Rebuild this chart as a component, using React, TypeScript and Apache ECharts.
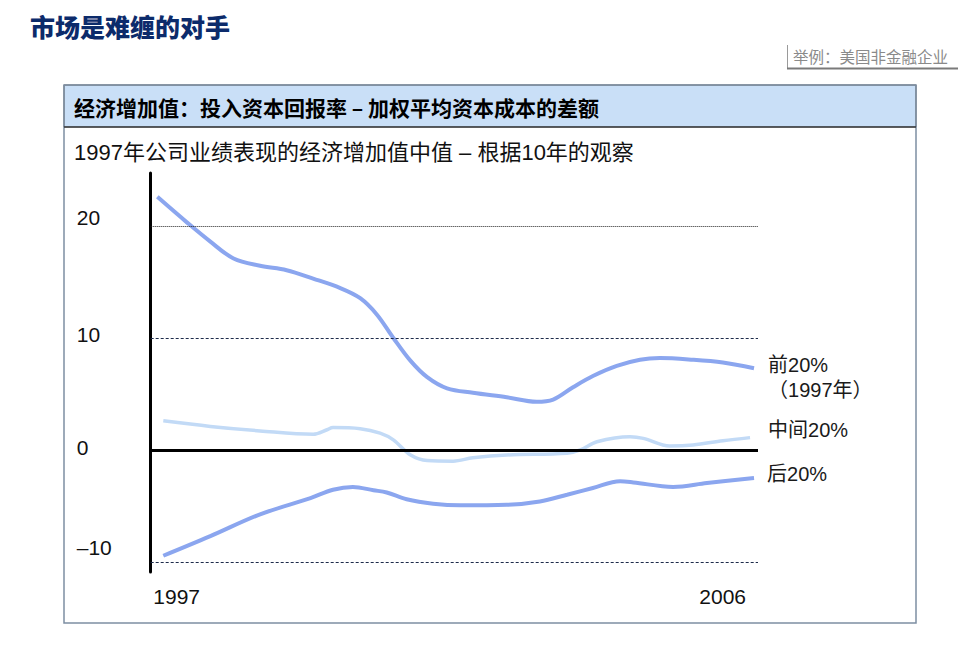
import React, { useEffect, useRef } from "react";
import * as echarts from "echarts";

// Economic value added (ROIC – WACC), median by 1997 performance quintile
const topYears = [1997.0, 1997.45, 1997.8, 1998.15, 1998.55, 1998.95, 1999.35, 1999.76, 2000.06, 2000.31, 2000.56, 2000.82, 2001.07, 2001.37, 2001.76, 2002.27, 2002.72, 2002.97, 2003.27, 2003.57, 2003.93, 2004.28, 2004.58, 2005.08, 2005.53, 2006.0];
const topValues = [22.6, 20.3, 18.6, 17.1, 16.45, 16.05, 15.3, 14.45, 13.55, 12.1, 10.0, 7.95, 6.5, 5.5, 5.1, 4.7, 4.3, 4.5, 5.6, 6.6, 7.5, 8.05, 8.2, 8.05, 7.8, 7.3];

const midYears = [1997.09, 1997.8, 1998.55, 1999.35, 1999.56, 1999.65, 2000.06, 2000.36, 2000.56, 2000.82, 2001.07, 2001.46, 2001.76, 2002.27, 2003.18, 2003.38, 2003.63, 2004.13, 2004.33, 2004.73, 2005.08, 2005.53, 2005.94];
const midValues = [2.6, 2.1, 1.7, 1.4, 1.8, 2.0, 1.9, 1.5, 0.9, -0.45, -0.95, -1.0, -0.7, -0.45, -0.3, 0.0, 0.73, 1.18, 1.03, 0.35, 0.44, 0.82, 1.1];

const lowYears = [1997.09, 1997.8, 1998.55, 1999.31, 1999.65, 1999.95, 2000.26, 2000.46, 2000.76, 2001.16, 2001.57, 2002.27, 2002.77, 2003.18, 2003.57, 2003.98, 2004.18, 2004.78, 2005.29, 2006.0];
const lowValues = [-9.45, -7.7, -5.75, -4.3, -3.55, -3.3, -3.6, -3.8, -4.4, -4.8, -4.95, -4.9, -4.6, -4.0, -3.4, -2.8, -2.9, -3.3, -2.95, -2.5];

const seriesNames = ["前20%\n（1997年）", "中间20%", "后20%"];
const yTicks = [-10, 0, 10, 20];
const dashedLevels = [10, -10];
const dottedLevels = [20];
const baseLevel = 0;
const xTickYears = [1997, 2006];

const pageTitle = "市场是难缠的对手";
const noteText = "举例：美国非金融企业";
const panelTitle = "经济增加值：投入资本回报率 – 加权平均资本成本的差额";
const panelSubtitle = "1997年公司业绩表现的经济增加值中值 – 根据10年的观察";

const pairs = (xs: number[], ys: number[]) => xs.map((x, i) => [x, ys[i]]);

const FONT = "'Liberation Sans', 'Noto Sans CJK SC', sans-serif";
const CJK = "'Noto Sans CJK SC', sans-serif";

// tick labels sit slightly above their grid lines; bottom padding lifts each one
const tickLift: Record<string, number> = { "20": 16, "10": 6, "0": 4, "-10": 28 };

export default function App() {
  const ref = useRef<HTMLDivElement>(null);

  useEffect(() => {
    if (!ref.current) return;
    const chart = echarts.init(ref.current, undefined, { renderer: "svg" });

    const lineBase = (name: string, data: number[][], color: string, width: number, labelOffset: number[], distance: number) => ({
      type: "line",
      name,
      data,
      smooth: 0.35,
      showSymbol: false,
      symbol: "none",
      z: 3,
      lineStyle: { color, width, cap: "butt" },
      endLabel: {
        show: true,
        formatter: name,
        distance,
        offset: labelOffset,
        color: "#1a1a1a",
        fontSize: 20,
        lineHeight: 25,
        fontFamily: FONT,
        align: "left",
      },
    });

    const tickRich: Record<string, any> = {};
    yTicks.forEach((v, i) => {
      tickRich["t" + i] = {
        fontSize: 21,
        color: "#111",
        fontFamily: FONT,
        padding: [0, 0, tickLift[String(v)] || 0, 0],
      };
    });

    chart.setOption({
      animation: false,
      backgroundColor: "#ffffff",
      grid: { left: 150.7, top: 173, width: 607.3, height: 399, containLabel: false },
      xAxis: {
        type: "value",
        min: 1996.9,
        max: 2006.06,
        axisLine: { show: false },
        axisTick: { show: false },
        axisLabel: { show: false },
        splitLine: { show: false },
      },
      yAxis: {
        type: "value",
        min: -10.9,
        max: 24.73,
        axisLine: { show: true, onZero: false, lineStyle: { color: "#000", width: 3 } },
        axisTick: { show: false },
        splitLine: { show: false },
        axisLabel: {
          customValues: yTicks,
          align: "left",
          margin: 74,
          fontSize: 21,
          color: "#111",
          fontFamily: FONT,
          rich: tickRich,
          formatter: (v: number) => {
            const i = yTicks.indexOf(v);
            const txt = v < 0 ? "–" + Math.abs(v) : String(v);
            return i >= 0 ? `{t${i}|${txt}}` : txt;
          },
        },
      },
      series: [
        {
          type: "line",
          data: [],
          z: 1,
          markLine: {
            silent: true,
            symbol: ["none", "none"],
            label: { show: false },
            data: [
              ...dottedLevels.map((v) => ({ yAxis: v, lineStyle: { type: [1, 1], color: "#222", width: 1 } })),
              ...dashedLevels.map((v) => ({ yAxis: v, lineStyle: { type: [3, 2], color: "#1d2b4a", width: 1 } })),
              { yAxis: baseLevel, lineStyle: { type: "solid", color: "#000", width: 3 } },
            ],
          },
        },
        lineBase(seriesNames[0], pairs(topYears, topValues), "#8ba6ef", 4, [0, 9], 14),
        lineBase(seriesNames[1], pairs(midYears, midValues), "#c2daf6", 3.5, [0, -8], 18),
        lineBase(seriesNames[2], pairs(lowYears, lowValues), "#8ba6ef", 4, [0, -4], 13),
      ],
    });

    const xs = xTickYears.map((y) => chart.convertToPixel({ xAxisIndex: 0 }, y) as number);

    chart.setOption({
      graphic: [
        {
          type: "text",
          left: 30,
          top: 13,
          style: { text: pageTitle, fill: "#0c2b6b", font: `900 25px ${CJK}` },
        },
        {
          type: "line",
          shape: { x1: 787.5, y1: 45, x2: 787.5, y2: 69 },
          style: { stroke: "#9a9a9a", lineWidth: 1 },
        },
        {
          type: "line",
          shape: { x1: 787, y1: 68.5, x2: 958, y2: 68.5 },
          style: { stroke: "#7a7a7a", lineWidth: 2 },
        },
        {
          type: "text",
          x: 793,
          y: 56,
          style: { text: noteText, fill: "#8a8a8a", font: `15.5px ${CJK}`, verticalAlign: "middle" },
        },
        {
          type: "rect",
          shape: { x: 64, y: 85, width: 852, height: 42 },
          style: { fill: "#c9dff7", stroke: "#555", lineWidth: 1 },
          z: -1,
        },
        {
          type: "rect",
          shape: { x: 64, y: 85, width: 852, height: 538 },
          style: { fill: "none", stroke: "#7d8ea3", lineWidth: 1.5 },
        },
        {
          type: "line",
          shape: { x1: 64, y1: 127, x2: 916, y2: 127 },
          style: { stroke: "#111", lineWidth: 1 },
        },
        {
          type: "text",
          x: 74,
          y: 107,
          style: { text: panelTitle, fill: "#000", font: `bold 21px ${CJK}`, verticalAlign: "middle" },
        },
        {
          type: "text",
          x: 74,
          y: 152,
          style: { text: panelSubtitle, fill: "#111", font: `22px ${FONT}`, verticalAlign: "middle" },
        },
        {
          type: "text",
          x: xs[0] - 4,
          y: 596,
          style: { text: String(xTickYears[0]), fill: "#111", font: `21px ${FONT}`, align: "left", verticalAlign: "middle" },
        },
        {
          type: "text",
          x: xs[1] - 8,
          y: 596,
          style: { text: String(xTickYears[1]), fill: "#111", font: `21px ${FONT}`, align: "right", verticalAlign: "middle" },
        },
      ],
    });

    return () => chart.dispose();
  }, []);

  return (
    <div
      ref={ref}
      style={{ position: "fixed", left: 0, top: 0, width: 958, height: 661, background: "#fff" }}
    />
  );
}
